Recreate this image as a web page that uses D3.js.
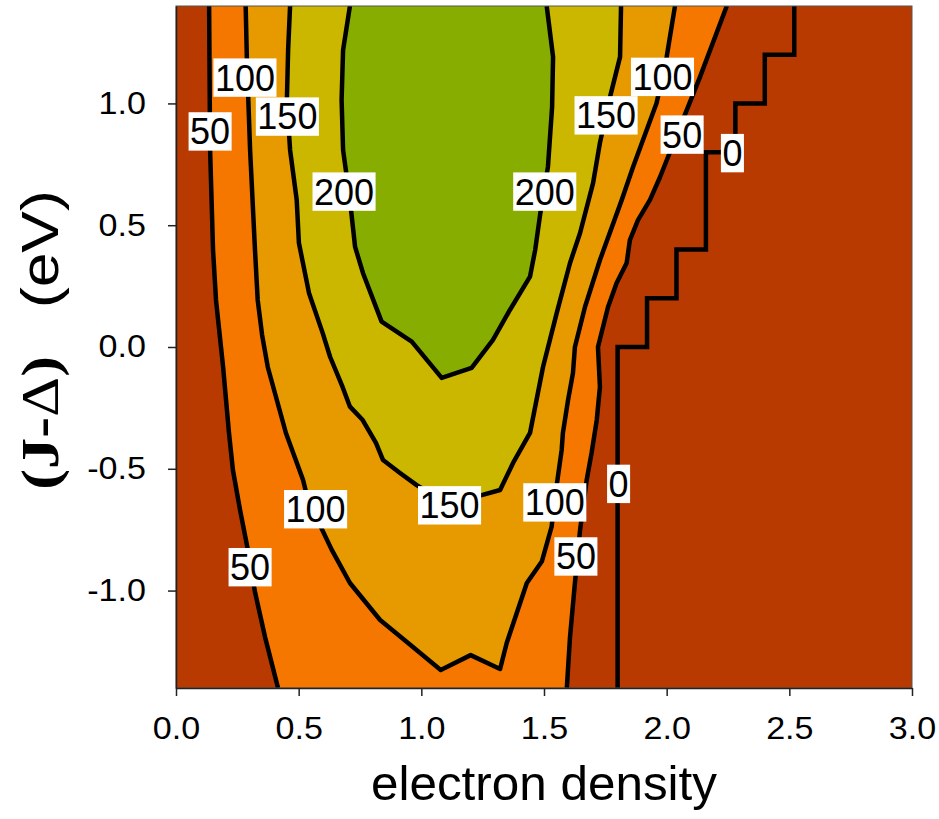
<!DOCTYPE html>
<html>
<head>
<meta charset="utf-8">
<script src="https://cdn.jsdelivr.net/npm/d3@7"></script>
<style>
  body { margin: 0; background: #fff; }
  text { font-family: "Liberation Sans", Arial, sans-serif; }
</style>
</head>
<body>
<div id="plot"></div>
<script>
// contour levels and the fill colour of the band starting at each level
const levels = [0, 50, 100, 150, 200];
const bandColors = ["#b93a00", "#f57700", "#e79900", "#cbb700", "#86ad00"];

// contour lines, [electron density, J-Delta]
const c50Left = [[0.135,1.4],[0.139,0.809],[0.151,0.398],[0.163,0.193],[0.192,-0.082],
  [0.216,-0.353],[0.232,-0.505],[0.261,-0.669],[0.293,-0.833],[0.322,-1.006],
  [0.363,-1.191],[0.416,-1.4]];
const c50Right = [[2.245,1.4],[2.136,1.109],[2.054,0.903],[1.973,0.698],[1.932,0.604],
  [1.883,0.521],[1.850,0.439],[1.837,0.345],[1.796,0.263],[1.761,0.164],[1.720,0.0],
  [1.728,-0.164],[1.715,-0.300],[1.694,-0.435],[1.674,-0.546],[1.647,-0.751],
  [1.626,-0.969],[1.606,-1.191],[1.593,-1.4]];
const c100 = [[0.284,1.4],[0.289,1.178],[0.302,0.809],[0.322,0.398],[0.333,0.193],
  [0.351,0.049],[0.374,-0.082],[0.448,-0.353],[0.518,-0.546],[0.538,-0.628],
  [0.635,-0.833],[0.709,-0.969],[0.832,-1.121],[0.946,-1.215],[1.079,-1.326],
  [1.201,-1.265],[1.321,-1.322],[1.348,-1.215],[1.430,-0.969],[1.491,-0.881],
  [1.531,-0.738],[1.549,-0.587],[1.572,-0.423],[1.577,-0.353],[1.598,-0.218],
  [1.618,-0.107],[1.626,0.0],[1.667,0.164],[1.728,0.357],[1.817,0.604],[1.863,0.739],
  [1.959,1.002],[2.000,1.191],[2.034,1.4]];
const c150 = [[0.465,1.4],[0.457,1.219],[0.452,1.014],[0.465,0.809],[0.492,0.604],
  [0.501,0.427],[0.542,0.222],[0.598,0.057],[0.628,-0.040],[0.679,-0.164],
  [0.709,-0.245],[0.761,-0.300],[0.815,-0.394],[0.844,-0.464],[0.913,-0.517],
  [0.981,-0.567],[1.083,-0.628],[1.205,-0.616],[1.246,-0.608],[1.321,-0.587],
  [1.374,-0.476],[1.443,-0.353],[1.496,-0.082],[1.552,0.140],[1.606,0.345],
  [1.647,0.468],[1.700,0.673],[1.728,0.838],[1.769,1.026],[1.810,1.191],[1.814,1.4]];
const c200 = [[0.709,1.4],[0.681,1.219],[0.675,1.014],[0.681,0.809],[0.709,0.604],
  [0.730,0.411],[0.762,0.304],[0.838,0.104],[0.961,0.022],[1.083,-0.127],
  [1.205,-0.086],[1.292,0.029],[1.361,0.152],[1.443,0.289],[1.464,0.398],
  [1.484,0.542],[1.516,0.739],[1.533,0.985],[1.537,1.191],[1.511,1.4]];
// zero level follows the grid cells: a staircase
const c0Steps = [[1.80,-1.4],[1.92,0.0],[2.04,0.2],[2.16,0.4],[2.28,0.8],
  [2.40,1.0],[2.52,1.2],[2.52,1.4]];

const contourLabels = [
  {t:"100", x:0.281, y:1.106}, {t:"50", x:0.139, y:0.885}, {t:"150", x:0.454, y:0.946},
  {t:"200", x:0.685, y:0.638}, {t:"200", x:1.503, y:0.638}, {t:"150", x:1.753, y:0.951},
  {t:"100", x:1.983, y:1.109}, {t:"50", x:2.063, y:0.872}, {t:"0", x:2.268, y:0.796},
  {t:"100", x:0.569, y:-0.666}, {t:"50", x:0.302, y:-0.904}, {t:"150", x:1.115, y:-0.650},
  {t:"100", x:1.544, y:-0.638}, {t:"50", x:1.630, y:-0.860}, {t:"0", x:1.804, y:-0.562}
];

const xTicks = [0, 0.5, 1.0, 1.5, 2.0, 2.5, 3.0];
const yTicks = [-1.0, -0.5, 0.0, 0.5, 1.0];

function main(){
  const margin = {top: 6, right: 27, bottom: 131, left: 176};
  const width = 939 - margin.left - margin.right;
  const height = 819 - margin.top - margin.bottom;

  const svg = d3.select("#plot")
      .append("svg")
      .attr("width", 939)
      .attr("height", 819)
      .append("g")
      .attr("transform", `translate(${margin.left}, ${margin.top})`);

  const x = d3.scaleLinear().domain([0, 3]).range([0, width]);
  const y = d3.scaleLinear().domain([-1.4, 1.4]).range([height, 0]);

  svg.append("clipPath").attr("id", "clip")
    .append("rect").attr("width", width).attr("height", height);

  const plot = svg.append("g").attr("clip-path", "url(#clip)");
  const line = d3.line().x(d => x(d[0])).y(d => y(d[1]));

  // bands, painted from lowest to highest
  plot.append("rect")
    .attr("width", width).attr("height", height)
    .attr("fill", bandColors[0]);

  plot.append("path")
    .attr("d", line(c50Left.concat(c50Right.slice().reverse())) + "Z")
    .attr("fill", bandColors[1]);

  [c100, c150, c200].forEach((c, i) => {
    plot.append("path")
      .attr("d", line(c) + "Z")
      .attr("fill", bandColors[i + 2]);
  });

  // contour lines
  [c50Left, c50Right, c100, c150, c200].forEach(c => {
    plot.append("path")
      .attr("d", line(c))
      .attr("fill", "none")
      .attr("stroke", "#000")
      .attr("stroke-width", 4.5)
      .attr("stroke-linejoin", "round");
  });

  plot.append("path")
    .attr("d", line.curve(d3.curveStepBefore)(c0Steps))
    .attr("fill", "none")
    .attr("stroke", "#000")
    .attr("stroke-width", 4.5);

  // labels on white boxes
  const fs = 36;
  const lab = svg.append("g").selectAll("g")
    .data(contourLabels)
    .join("g")
    .attr("transform", d => `translate(${x(d.x)}, ${y(d.y)})`);

  lab.append("text")
    .attr("text-anchor", "middle")
    .attr("y", 12.9)
    .style("font-size", fs + "px")
    .attr("fill", "#000")
    .text(d => d.t);

  lab.each(function(){
    const g = d3.select(this);
    const w = g.select("text").node().getComputedTextLength() + 3;
    g.insert("rect", "text")
      .attr("x", -w / 2).attr("y", -19.2)
      .attr("width", w).attr("height", 38.4)
      .attr("fill", "#fff");
  });

  // frame
  svg.append("rect")
    .attr("width", width).attr("height", height)
    .attr("fill", "none")
    .attr("stroke", "#555")
    .attr("stroke-width", 1);

  // axes
  const xAxis = svg.append("g")
    .attr("transform", `translate(0, ${height})`)
    .call(d3.axisBottom(x).tickValues(xTicks).tickFormat(d => d.toFixed(1))
      .tickSize(8).tickSizeOuter(0).tickPadding(21));

  const yAxis = svg.append("g")
    .call(d3.axisLeft(y).tickValues(yTicks).tickFormat(d => d.toFixed(1))
      .tickSize(8).tickSizeOuter(0).tickPadding(22));

  [xAxis, yAxis].forEach(a => {
    a.select(".domain").attr("stroke", "#222").attr("stroke-width", 1.5);
    a.selectAll(".tick line").attr("stroke", "#222").attr("stroke-width", 1.5);
    a.selectAll("text")
      .style("font-family", '"Liberation Sans", Arial, sans-serif')
      .style("font-size", "31px")
      .attr("fill", "#000")
      .each(function(){
        const t = d3.select(this);
        t.attr("textLength", this.getComputedTextLength() * 1.1)
         .attr("lengthAdjust", "spacingAndGlyphs");
      });
  });

  // axis titles
  svg.append("text")
    .attr("x", width / 2)
    .attr("y", 800 - margin.top)
    .attr("text-anchor", "middle")
    .attr("textLength", 346)
    .attr("lengthAdjust", "spacingAndGlyphs")
    .style("font-size", "48px")
    .text("electron density");

  const yt = svg.append("text")
    .attr("transform", `translate(${58 - margin.left}, ${340 - margin.top}) rotate(-90) scale(1.2, 1)`)
    .attr("text-anchor", "middle")
    .style("font-size", "52px");
  yt.append("tspan").style("font-family", '"Liberation Serif", serif').style("font-weight", "bold").text("(J-");
  yt.append("tspan").style("font-family", '"Liberation Serif", serif').text("\u0394");
  yt.append("tspan").style("font-family", '"Liberation Serif", serif').style("font-weight", "bold").text(")");
  yt.append("tspan").attr("dx", 40).text("(eV)");
}

main();
</script>
</body>
</html>
